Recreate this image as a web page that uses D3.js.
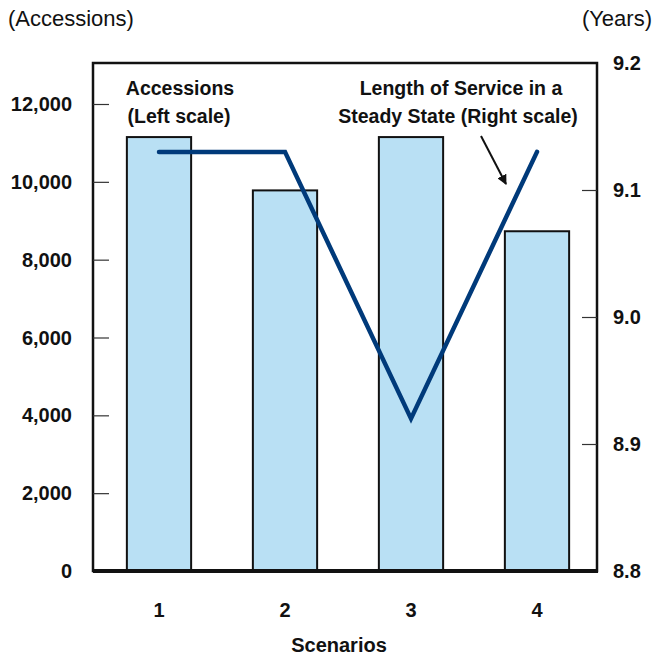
<!DOCTYPE html>
<html><head><meta charset="utf-8">
<script src="https://cdn.jsdelivr.net/npm/d3@7"></script>
<style>body{margin:0;background:#fff}svg{display:block}text{font-family:"Liberation Sans",Arial,sans-serif}</style>
</head><body>
<svg id="c" width="657" height="658"></svg>
<script>
const scenarios = ["1","2","3","4"];
const accessions = [11150, 9780, 11150, 8730];
const lengthOfService = [9.13, 9.13, 8.92, 9.13];
const leftTicks = [0, 2000, 4000, 6000, 8000, 10000, 12000];
const rightTicks = [8.8, 8.9, 9.0, 9.1, 9.2];

const svg = d3.select("#c");
const L = 93, R = 597, T = 63, B = 571;
const x = d3.scaleBand().domain(scenarios).range([L + 3, R + 3]).paddingInner(0.49).paddingOuter(0.245);
const xc = d3.scaleBand().domain(scenarios).range([L + 3, R + 3]);
const yL = d3.scaleLinear().domain([0, 12000]).range([B, 104]);
const yR = d3.scaleLinear().domain([8.8, 9.2]).range([B, T]);

// bars
svg.selectAll("rect.bar").data(scenarios).enter().append("rect")
  .attr("x", d => x(d)).attr("width", x.bandwidth())
  .attr("y", (d, i) => yL(accessions[i])).attr("height", (d, i) => B - yL(accessions[i]))
  .attr("fill", "#b9e0f4").attr("stroke", "#111").attr("stroke-width", 2);

// frame
svg.append("rect").attr("x", L).attr("y", T).attr("width", R - L).attr("height", B - T)
  .attr("fill", "none").attr("stroke", "#111").attr("stroke-width", 2.5);
svg.append("line").attr("x1", L).attr("x2", R + 1).attr("y1", B).attr("y2", B)
  .attr("stroke", "#111").attr("stroke-width", 4);

// left axis
const la = svg.append("g").attr("transform", `translate(${L},0)`)
  .call(d3.axisRight(yL).tickValues(leftTicks).tickSize(16).tickFormat(""));
la.select(".domain").remove();
la.selectAll("line").attr("stroke", "#333").attr("stroke-width", 1.2);
la.selectAll("g.tick").filter(d => d === 0).remove();
svg.append("g").selectAll("text").data(leftTicks).enter().append("text")
  .attr("x", 72).attr("y", d => yL(d) + 7).attr("text-anchor", "end")
  .attr("font-size", 20).attr("font-weight", "bold").attr("fill", "#111")
  .text(d => d3.format(",")(d));

// right axis
const ra = svg.append("g").attr("transform", `translate(${R},0)`)
  .call(d3.axisLeft(yR).tickValues(rightTicks).tickSize(15).tickFormat(""));
ra.select(".domain").remove();
ra.selectAll("line").attr("stroke", "#333").attr("stroke-width", 1.2);
ra.selectAll("g.tick").filter(d => d === 8.8 || d === 9.2).remove();
svg.append("g").selectAll("text").data(rightTicks).enter().append("text")
  .attr("x", 613).attr("y", d => yR(d) + 7).attr("text-anchor", "start")
  .attr("font-size", 20).attr("font-weight", "bold").attr("fill", "#111")
  .text(d => d3.format(".1f")(d));

// line
const line = d3.line().x((d, i) => xc(scenarios[i]) + xc.bandwidth() / 2).y(d => yR(d));
svg.append("path").datum(lengthOfService).attr("d", line)
  .attr("fill", "none").attr("stroke", "#003a7a").attr("stroke-width", 4.5)
  .attr("stroke-linecap", "round").attr("stroke-linejoin", "miter");

// x labels
svg.append("g").selectAll("text").data(scenarios).enter().append("text")
  .attr("x", d => xc(d) + xc.bandwidth() / 2).attr("y", 617).attr("text-anchor", "middle")
  .attr("font-size", 20).attr("font-weight", "bold").attr("fill", "#111").text(d => d);
svg.append("text").attr("x", 339).attr("y", 652).attr("text-anchor", "middle")
  .attr("font-size", 20).attr("font-weight", "bold").attr("fill", "#111").text("Scenarios");

// axis titles
svg.append("text").attr("x", 8).attr("y", 26).attr("font-size", 22).attr("fill", "#111").text("(Accessions)");
svg.append("text").attr("x", 652).attr("y", 26).attr("text-anchor", "end").attr("font-size", 22).attr("fill", "#111").text("(Years)");

// annotations
const ann = svg.append("g").attr("font-size", 19.5).attr("font-weight", "bold").attr("fill", "#111").attr("text-anchor", "middle");
ann.append("text").attr("x", 180).attr("y", 95).text("Accessions");
ann.append("text").attr("x", 179).attr("y", 123).text("(Left scale)");
ann.append("text").attr("x", 461).attr("y", 95).text("Length of Service in a");
ann.append("text").attr("x", 458).attr("y", 123).text("Steady State (Right scale)");

// arrow
svg.append("defs").append("marker").attr("id", "ah").attr("viewBox", "0 0 10 10")
  .attr("refX", 9).attr("refY", 5).attr("markerWidth", 5).attr("markerHeight", 5)
  .attr("orient", "auto").append("path").attr("d", "M0,0L10,5L0,10z").attr("fill", "#111");
svg.append("line").attr("x1", 481).attr("y1", 136).attr("x2", 506).attr("y2", 184)
  .attr("stroke", "#111").attr("stroke-width", 2).attr("marker-end", "url(#ah)");
</script>
</body></html>
